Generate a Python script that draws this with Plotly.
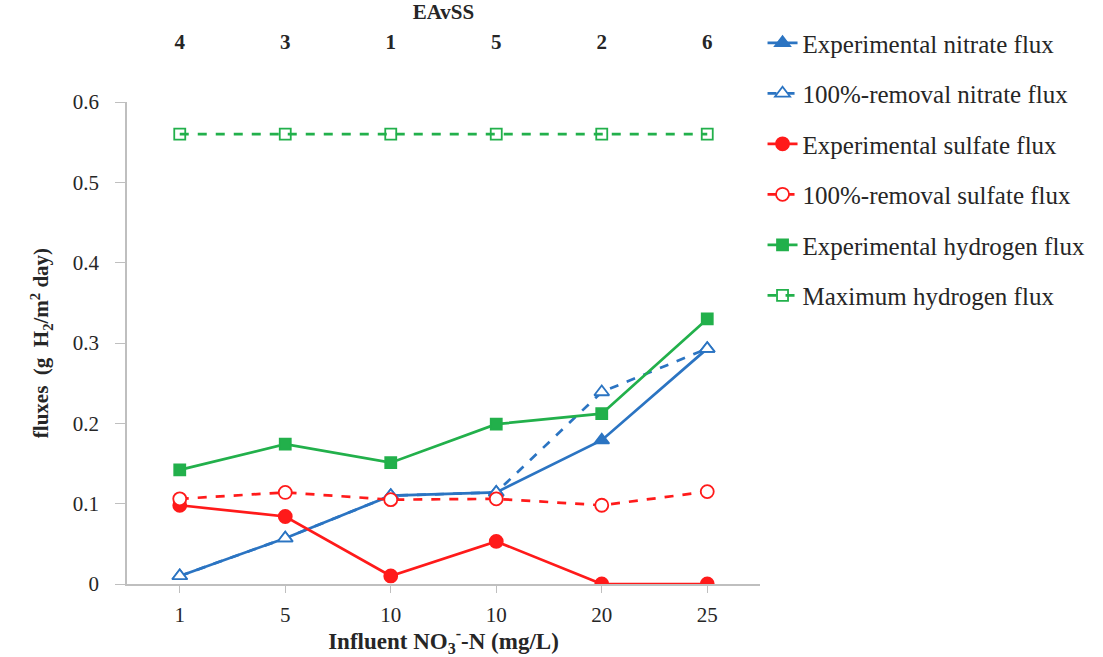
import plotly.graph_objects as go

x_labels = ["1", "5", "10", "10", "20", "25"]
top_labels = ["4", "3", "1", "5", "2", "6"]

exp_nitrate = [0.010, 0.057, 0.110, 0.114, 0.179, 0.293]
rem_nitrate = [0.010, 0.057, 0.110, 0.114, 0.239, 0.293]
exp_sulfate = [0.098, 0.084, 0.010, 0.053, 0.000, 0.000]
rem_sulfate = [0.106, 0.114, 0.105, 0.106, 0.098, 0.115]
exp_hydrogen = [0.142, 0.174, 0.151, 0.199, 0.212, 0.330]
max_hydrogen = [0.56, 0.56, 0.56, 0.56, 0.56, 0.56]

xs = list(range(len(x_labels)))

BLUE = "#2b74c2"
RED = "#ff1a1a"
GREEN = "#22b04b"
FONT = "Liberation Serif"
TXT = "#262626"

fig = go.Figure()

def add(name, y, color, dash, symbol, size, fill):
    fig.add_trace(go.Scatter(
        x=xs, y=y, name=name, mode="lines+markers",
        legendgroup=name,
        line=dict(color=color, width=2.7, dash=dash),
        marker=dict(symbol=symbol, size=size, color=fill,
                    line=dict(color=color, width=1.8)),
    ))

add("Experimental nitrate flux", exp_nitrate, BLUE, "solid", "triangle-up", 13, BLUE)
add("100%-removal nitrate flux", rem_nitrate, BLUE, "dash", "triangle-up", 13, "white")
add("Experimental sulfate flux", exp_sulfate, RED, "solid", "circle", 13, RED)
add("100%-removal sulfate flux", rem_sulfate, RED, "dash", "circle", 13, "white")
add("Experimental hydrogen flux", exp_hydrogen, GREEN, "solid", "square", 11, GREEN)
add("Maximum hydrogen flux", max_hydrogen, GREEN, "dash", "square-open", 11, GREEN)

# invisible trace to anchor top axis
fig.add_trace(go.Scatter(x=xs, y=max_hydrogen, xaxis="x2", mode="markers",
                         marker=dict(opacity=0), showlegend=False, hoverinfo="skip"))

fig.update_layout(
    width=1103, height=657,
    margin=dict(l=127, r=340, t=102, b=73),
    paper_bgcolor="white", plot_bgcolor="white",
    font=dict(family=FONT, color=TXT),
    showlegend=True,
    legend=dict(x=1.004, y=1.17, xanchor="left", yanchor="top",
                font=dict(family=FONT, size=25, color=TXT),
                tracegroupgap=15, bgcolor="rgba(0,0,0,0)"),
    xaxis=dict(
        range=[-0.5, 5.5], tickmode="array", tickvals=xs, ticktext=x_labels,
        tickson="boundaries", ticks="outside", ticklen=7, tickcolor="#bfbfbf",
        ticklabelstandoff=4, automargin=False,
        showline=True, linecolor="#bfbfbf", linewidth=1.5,
        showgrid=False, zeroline=False,
        tickfont=dict(family=FONT, size=21, color=TXT),
        title=dict(text="<b>Influent NO<sub>3</sub><sup>-</sup>-N (mg/L)</b>",
                   font=dict(family=FONT, size=23, color=TXT), standoff=6),
    ),
    xaxis2=dict(
        overlaying="x", side="top", matches="x", anchor="y",
        range=[-0.5, 5.5], tickmode="array", tickvals=xs,
        ticktext=["<b>%s</b>" % t for t in top_labels],
        ticks="", ticklabelstandoff=48, showline=False, showgrid=False, zeroline=False,
        automargin=False,
        tickfont=dict(family=FONT, size=21, color=TXT),
        title=dict(text="<b>EAvSS</b>", font=dict(family=FONT, size=21, color=TXT),
                   standoff=4),
    ),
    yaxis=dict(
        range=[0, 0.6], tickmode="array", tickvals=[0, 0.1, 0.2, 0.3, 0.4, 0.5, 0.6],
        ticktext=["0", "0.1", "0.2", "0.3", "0.4", "0.5", "0.6"],
        ticks="outside", ticklen=10, tickcolor="#bfbfbf", ticklabelstandoff=12,
        automargin=False,
        showline=True, linecolor="#bfbfbf", linewidth=1.5,
        showgrid=False, zeroline=False,
        tickfont=dict(family=FONT, size=21, color=TXT),
        title=dict(text="<b>fluxes  (g  H<sub>2</sub>/m<sup>2</sup> day)</b>",
                   font=dict(family=FONT, size=21, color=TXT), standoff=18),
    ),
)

fig.write_html("out.html")
